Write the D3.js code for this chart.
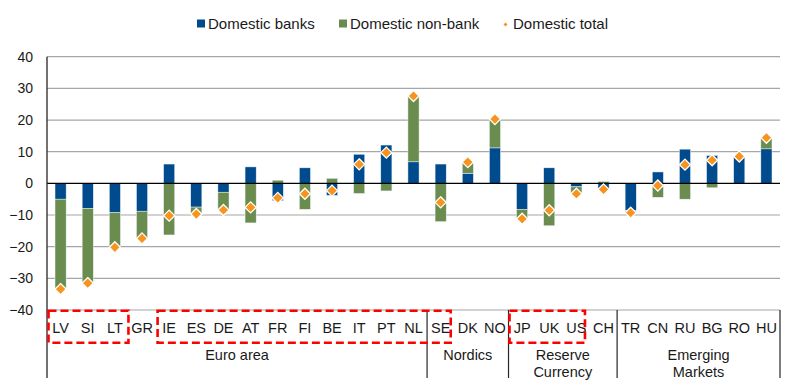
<!DOCTYPE html>
<html>
<head>
<meta charset="utf-8">
<script src="https://cdn.jsdelivr.net/npm/d3@7"></script>
<style>
  html, body { margin: 0; padding: 0; background: #ffffff; }
  svg { display: block; font-family: "Liberation Sans", Arial, sans-serif; }
</style>
</head>
<body>
<div id="chart"></div>
<script>
// ---------------- data ----------------
const categories = ["LV","SI","LT","GR","IE","ES","DE","AT","FR","FI","BE","IT","PT","NL",
                    "SE","DK","NO","JP","UK","US","CH","TR","CN","RU","BG","RO","HU"];
const domesticBanks   = [-5.0,-7.9,-9.3,-8.8, 6.1,-7.5,-2.8, 5.2,-5.5, 4.9,-3.8, 9.2,12.1, 6.8,
                          6.1, 3.2,11.2,-8.2, 4.9,-1.1,-2.0,-8.5, 3.6,10.8, 8.8, 8.4,10.9];
const domesticNonBank = [-28.2,-23.6,-10.9,-8.6,-16.3,-2.2,-5.4,-12.5, 1.0,-8.2, 1.6,-3.2,-2.4,20.8,
                          -12.1, 3.4, 9.0,-2.9,-13.4,-2.1, 0.6,-0.8,-4.4,-5.0,-1.4, 0.1, 3.5];
const domesticTotal   = [-33.4,-31.5,-20.2,-17.4,-10.2,-9.7,-8.4,-7.6,-4.6,-3.3,-2.3, 6.0, 9.7,27.6,
                          -6.0, 6.7,20.3,-11.2,-8.5,-3.3,-1.9,-9.3,-0.7, 5.9, 7.3, 8.5,14.4];
const yTicks = [-40,-30,-20,-10,0,10,20,30,40];
const groupNames = [["Euro area"],["Nordics"],["Reserve","Currency"],["Emerging","Markets"]];
const groupStarts = ["LV","SE","JP","TR"];
const groupEnds   = ["NL","NO","CH","HU"];
const highlightStarts = ["LV","IE","JP"];
const highlightEnds   = ["LT","SE","US"];
const seriesNames = ["Domestic banks","Domestic non-bank","Domestic total"];

// ---------------- layout ----------------
const W = 800, H = 388;
const mLeft = 47, mRight = 780, mTop = 56.7, mBottom = 310;
const colBanks = "#004B8D", colNonBank = "#6A8D4F", colTotal = "#F7941D";

const svg = d3.select("#chart").append("svg").attr("width", W).attr("height", H);

const x = d3.scaleBand().domain(categories).range([mLeft, mRight]).paddingInner(0.59).paddingOuter(0.295);
const xb = d3.scaleBand().domain(categories).range([mLeft, mRight]).padding(0);
const y = d3.scaleLinear().domain([-40, 40]).range([mBottom, mTop]);

// gridlines
svg.append("g").selectAll("line").data(yTicks.filter(d => d !== 0)).join("line")
  .attr("x1", mLeft).attr("x2", mRight)
  .attr("y1", d => y(d)).attr("y2", d => y(d))
  .attr("stroke", "#A6A6A6").attr("stroke-width", 1.2);

// y axis labels
const yAxis = d3.axisLeft(y).tickValues(yTicks).tickSize(0).tickPadding(14).tickFormat(d3.format("d"));
const gy = svg.append("g").attr("transform", `translate(${mLeft},0)`).call(yAxis);
gy.select(".domain").remove();
gy.selectAll("text").attr("font-size", 14).attr("fill", "#1a1a1a")
  .attr("font-family", "'Liberation Sans', Arial, sans-serif");

// stacked bars
const rows = categories.map((c, i) => ({cat: c, banks: domesticBanks[i], nonbank: domesticNonBank[i]}));
const stack = d3.stack().keys(["banks","nonbank"]).offset(d3.stackOffsetDiverging);
const stacked = stack(rows);
const colors = {banks: colBanks, nonbank: colNonBank};
svg.append("g").selectAll("g").data(stacked).join("g")
  .attr("fill", d => colors[d.key])
  .selectAll("rect").data(d => d).join("rect")
  .attr("x", d => x(d.data.cat))
  .attr("width", x.bandwidth())
  .attr("y", d => y(Math.max(d[0], d[1])))
  .attr("height", d => Math.abs(y(d[0]) - y(d[1])))
  .attr("stroke", "#eef3f8").attr("stroke-width", 0.5);

// zero line
svg.append("line").attr("x1", mLeft).attr("x2", mRight).attr("y1", y(0)).attr("y2", y(0))
  .attr("stroke", "#000").attr("stroke-width", 1.2);

// totals (diamonds)
const diamond = d3.symbol().type(d3.symbolDiamond2).size(78);
svg.append("g").selectAll("path").data(categories).join("path")
  .attr("d", diamond)
  .attr("transform", (c, i) => `translate(${x(c) + x.bandwidth()/2},${y(domesticTotal[i])})`)
  .attr("fill", colTotal).attr("stroke", "#fff").attr("stroke-width", 1.3);

// vertical axis line
svg.append("line").attr("x1", mLeft).attr("x2", mLeft).attr("y1", mTop).attr("y2", 378)
  .attr("stroke", "#262626").attr("stroke-width", 1.3);

// group separators
const sepX = groupStarts.slice(1).map(c => xb(c)).concat([mRight]);
svg.append("g").selectAll("line").data(sepX).join("line")
  .attr("x1", d => d).attr("x2", d => d).attr("y1", mBottom).attr("y2", 378)
  .attr("stroke", "#262626").attr("stroke-width", 1.2);

// category labels
svg.append("g").selectAll("text").data(categories).join("text")
  .attr("x", c => xb(c) + xb.bandwidth()/2).attr("y", 333)
  .attr("text-anchor", "middle").attr("font-size", 14.5).attr("fill", "#1a1a1a")
  .text(c => c);

// group labels
groupNames.forEach((lines, g) => {
  const x0 = xb(groupStarts[g]), x1 = xb(groupEnds[g]) + xb.bandwidth();
  lines.forEach((t, k) => {
    svg.append("text").attr("x", (x0 + x1)/2).attr("y", 360 + k*16.5)
      .attr("text-anchor", "middle").attr("font-size", 14.5).attr("fill", "#1a1a1a").text(t);
  });
});

// red dashed highlight boxes
const insets = [[1.5, 0], [2, -3.5], [1, -5]];
highlightStarts.forEach((s, k) => {
  const x0 = xb(s) + insets[k][0], x1 = xb(highlightEnds[k]) + xb.bandwidth() + insets[k][1];
  svg.append("rect").attr("x", x0).attr("y", 310.7).attr("width", x1 - x0).attr("height", 32)
    .attr("fill", "none").attr("stroke", "#FF0000").attr("stroke-width", 2.6)
    .attr("stroke-dasharray", "8,4");
});

// legend
const lg = svg.append("g");
const legendItems = [
  {name: seriesNames[0], color: colBanks, mx: 197, tx: 208, type: "sq"},
  {name: seriesNames[1], color: colNonBank, mx: 339, tx: 350, type: "sq"},
  {name: seriesNames[2], color: colTotal, mx: 505.5, tx: 513, type: "dm"}
];
legendItems.forEach(it => {
  if (it.type === "sq") {
    lg.append("rect").attr("x", it.mx).attr("y", 19.5).attr("width", 8).attr("height", 8).attr("fill", it.color);
  } else {
    lg.append("path").attr("d", d3.symbol().type(d3.symbolDiamond2).size(10))
      .attr("transform", `translate(${it.mx},24.5)`).attr("fill", it.color);
  }
  lg.append("text").attr("x", it.tx).attr("y", 29).attr("font-size", 15).attr("fill", "#1a1a1a").text(it.name);
});
</script>
</body>
</html>
